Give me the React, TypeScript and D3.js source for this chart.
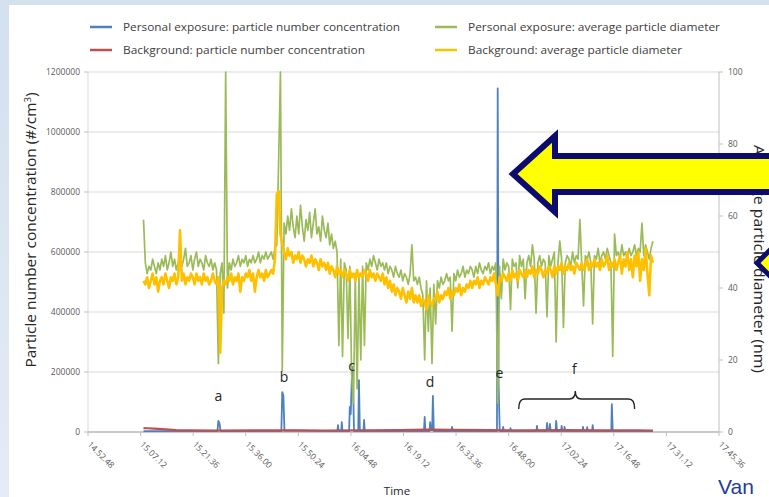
import React from 'react';
import * as d3 from 'd3';

const W = 769;
const H = 497;

// time helpers, "hh:mm:ss" -> seconds of day
const toSec = (s: string) => {
  const [h, m, sec] = s.split(':').map(Number);
  return h * 3600 + m * 60 + sec;
};
const fmtTime = (v: number) => {
  const h = Math.floor(v / 3600);
  const m = Math.floor((v % 3600) / 60);
  const s = v % 60;
  const p = (n: number) => String(n).padStart(2, '0');
  return `${p(h)}.${p(m)}.${p(s)}`;
};

const axisStart = '14:52:48';
const axisEnd = '17:45:36';
const tickStep = 864; // 14 min 24 s between time ticks
const seriesStart = '15:08:00';
const STEP = 30; // seconds between samples

const leftTicks = [0, 200000, 400000, 600000, 800000, 1000000, 1200000];
const rightTicks = [0, 20, 40, 60, 80, 100];

// average particle diameter (nm), every 30 s from 15:08:00
const personalDiameter = [
  59, 47, 44, 46, 45, 48, 46, 44, 47, 45,
  48, 46, 49, 45, 47, 50, 46, 48, 45, 47,
  49, 46, 48, 51, 46, 47, 49, 45, 48, 50,
  46, 48, 47, 45, 49, 47, 46, 48, 45, 47,
  45, 19, 44, 47, 33, 100, 40, 47, 45, 48,
  46, 47, 49, 46, 48, 47, 49, 46, 48, 47,
  49, 47, 48, 50, 47, 49, 48, 50, 48, 49,
  50, 48, 51, 52, 75, 100, 17, 58, 55, 60,
  56, 62, 57, 54, 60, 55, 63, 57, 53, 59,
  56, 61, 54, 58, 62, 55, 57, 53, 60, 56,
  54, 58, 52, 55, 51, 53, 50, 24, 48, 21,
  47, 45, 26, 46, 16, 8, 44, 12, 43, 20,
  46, 24, 47, 45, 48, 46, 49, 47, 45, 48,
  46, 47, 45, 47, 44, 46, 45, 43, 46, 44,
  43, 45, 42, 44, 43, 41, 44, 52, 42, 43,
  41, 43, 40, 38, 20, 42, 28, 40, 19, 41,
  30, 42, 40, 43, 41, 42, 44, 42, 43, 28,
  44, 42, 45, 43, 44, 46, 43, 45, 44, 46,
  45, 43, 46, 44, 47, 45, 44, 46, 45, 47,
  44, 46, 45, 47, 8, 46, 37, 48, 45, 47,
  46, 34, 48, 46, 47, 40, 49, 46, 48, 37,
  47, 49, 46, 52, 48, 33, 47, 49, 46, 48,
  47, 32, 49, 46, 48, 50, 25, 47, 53, 48,
  29, 47, 49, 48, 46, 50, 47, 49, 48, 59,
  47, 35, 49, 48, 50, 47, 30, 49, 48, 51,
  47, 49, 50, 48, 51, 49, 47, 21, 55, 49,
  50, 48, 52, 49, 50, 48, 51, 49, 50, 52,
  49, 51, 50, 58, 49, 52, 50, 48, 51, 53,
];

const backgroundDiameter = [
  42, 41, 43, 40, 42, 44, 41, 43, 39, 42,
  43, 41, 44, 42, 40, 43, 42, 44, 41, 43,
  56, 42, 44, 41, 43, 42, 44, 43, 41, 44,
  42, 43, 41, 44, 42, 43, 41, 42, 44, 42,
  41, 43, 22, 40, 42, 41, 43, 42, 44, 41,
  43, 42, 44, 39, 43, 42, 44, 43, 45, 42,
  44, 39, 43, 45, 43, 44, 42, 45, 43, 44,
  45, 44, 48, 66, 67, 55, 52, 50, 48, 51,
  49, 50, 47, 49, 48, 50, 47, 49, 48, 46,
  48, 47, 49, 46, 48, 47, 45, 48, 46, 47,
  45, 47, 44, 46, 45, 43, 46, 44, 45, 43,
  45, 44, 42, 45, 43, 44, 42, 45, 43, 44,
  43, 45, 44, 42, 45, 43, 44, 42, 44, 43,
  42, 44, 41, 43, 40, 42, 39, 41, 38, 40,
  39, 37, 40, 38, 36, 39, 37, 40, 36, 38,
  36, 38, 35, 37, 36, 34, 38, 36, 35, 37,
  37, 39, 36, 38, 37, 39, 38, 40, 37, 39,
  38, 40, 39, 41, 38, 40, 39, 41, 40, 42,
  40, 42, 41, 43, 40, 42, 41, 43, 42, 41,
  43, 42, 44, 41, 38, 43, 42, 44, 43, 42,
  44, 42, 45, 43, 44, 42, 45, 44, 43, 45,
  43, 45, 44, 46, 43, 45, 44, 46, 45, 43,
  45, 44, 46, 45, 43, 46, 44, 46, 45, 47,
  44, 46, 45, 47, 45, 46, 44, 47, 46, 45,
  47, 45, 46, 48, 45, 47, 46, 48, 46, 47,
  45, 48, 46, 47, 49, 45, 47, 46, 48, 45,
  47, 49, 44, 48, 46, 50, 45, 48, 43, 49,
  46, 50, 42, 48, 45, 51, 44, 38, 49, 47,
];

// particle number concentration (#/cm3): [sample index, value]
const personalPNC: [number, number][] = [
  [0, 3000], [40.5, 3000], [41, 37000], [41.6, 30000], [42.2, 3000],
  [75.5, 3000], [76, 133000], [76.6, 122000], [77.2, 5000], [104, 3000],
  [106.2, 3000], [106.5, 23000], [106.9, 3000], [108.3, 3000], [108.6, 33000], [109, 3000],
  [112.6, 3000], [113, 84000], [113.5, 60000], [114.3, 217000], [114.8, 150000], [115.3, 3000],
  [117.6, 3000], [118, 173000], [118.5, 3000], [120.5, 3000], [120.8, 40000], [121.2, 3000],
  [153.6, 3000], [154, 50000], [154.4, 3000], [156.6, 3000], [157, 33000], [157.4, 6000],
  [158.1, 8000], [158.5, 120000], [159, 3000], [168.7, 3000], [169, 17000], [169.4, 3000],
  [193.6, 3000], [194, 1145000], [194.5, 157000], [195.1, 3000],
  [196.7, 3000], [197, 17000], [197.4, 3000], [200.7, 3000], [201, 13000], [201.4, 3000],
  [215.2, 3000], [215.5, 20000], [215.9, 3000], [220.7, 3000], [221, 30000], [221.5, 4000],
  [222.3, 4000], [222.6, 27000], [223, 3000], [225.7, 3000], [226, 37000], [226.5, 3000],
  [228.7, 3000], [229, 20000], [229.4, 3000], [230.3, 3000], [230.6, 17000], [231, 3000],
  [240.4, 3000], [240.7, 17000], [241.1, 3000], [242.7, 3000], [243, 16000], [243.4, 3000],
  [245.7, 3000], [246, 23000], [246.4, 3000], [256.2, 3000], [256.5, 93000], [257, 3000],
  [279, 3000],
];

const backgroundPNC: [number, number][] = [
  [0, 13000], [2, 12500], [6, 11000], [10, 9500], [14, 8000], [18, 6500], [25, 5500],
  [40, 5000], [60, 5200], [80, 5500], [100, 5000], [120, 5800], [140, 6500], [155, 8000],
  [170, 7000], [190, 6000], [210, 5500], [230, 6000], [250, 5500], [270, 5800], [279, 5000],
];

const COLORS = {
  personalPNC: '#4f81bd',
  backgroundPNC: '#c0504d',
  personalDiameter: '#9bbb59',
  backgroundDiameter: '#ffc000',
};

const peakLabels = [
  { text: 'a', t: 41 },
  { text: 'b', t: 77 },
  { text: 'c', t: 114 },
  { text: 'd', t: 157 },
  { text: 'e', t: 195 },
  { text: 'f', t: 236 },
];
const peakLabelY = [401, 382, 371, 387, 378, 374];

const FONT = '"Open Sans", "DejaVu Sans", sans-serif';

export default function App() {
  const t0 = toSec(seriesStart);
  const x = d3.scaleLinear().domain([toSec(axisStart), toSec(axisEnd)]).range([88, 719]);
  const yL = d3.scaleLinear().domain([0, 1200000]).range([432, 72]);
  const yR = d3.scaleLinear().domain([0, 100]).range([432, 72]);
  const xi = (i: number) => x(t0 + i * STEP);

  const xTicks = d3.range(toSec(axisStart), toSec(axisEnd) + 1, tickStep);

  const lineDense = d3.line<number>().x((_, i) => xi(i)).y((d) => yR(d));
  const lineSparse = d3.line<[number, number]>().x((d) => xi(d[0])).y((d) => yL(d[1]));

  const left = x.range()[0];
  const right = x.range()[1];
  const bottom = yL(0);

  // bracket over f
  const bx0 = xi(205.5), bx1 = xi(269), bxm = xi(236.5);
  const bracket = `M${bx0},409 Q${bx0},399 ${bx0 + 6},399 L${bxm - 6},399 Q${bxm},399 ${bxm},391 Q${bxm},399 ${bxm + 6},399 L${bx1 - 6},399 Q${bx1},399 ${bx1},409`;

  const legend = [
    { label: 'Personal exposure: particle number concentration', color: COLORS.personalPNC, x: 90, y: 27, len: 277 },
    { label: 'Background: particle number concentration', color: COLORS.backgroundPNC, x: 90, y: 50, len: 242 },
    { label: 'Personal exposure: average particle diameter', color: COLORS.personalDiameter, x: 435, y: 27, len: 252 },
    { label: 'Background: average particle diameter', color: '#f5c500', x: 435, y: 50, len: 214 },
  ];

  return (
    <svg width={W} height={H} style={{ position: 'absolute', left: 0, top: 0 }} fontFamily={FONT}>
      <defs>
        <linearGradient id="slide" x1="0" y1="0" x2="0" y2="1">
          <stop offset="0" stopColor="#d3e0ee" />
          <stop offset="1" stopColor="#e4ecf5" />
        </linearGradient>
      </defs>
      <rect width={W} height={H} fill="url(#slide)" />
      <rect x={9} y={5} width={W - 9} height={H - 5} fill="#ffffff" />

      {/* gridlines */}
      {leftTicks.map((v) => (
        <line key={v} x1={left} x2={right} y1={yL(v)} y2={yL(v)} stroke="#d9d9d9" strokeWidth={1} />
      ))}
      <line x1={left} x2={left} y1={72} y2={bottom} stroke="#d9d9d9" />
      <line x1={right} x2={right} y1={72} y2={bottom} stroke="#bfbfbf" />
      <line x1={left} x2={right} y1={bottom} y2={bottom} stroke="#a6a6a6" />
      {leftTicks.map((v) => (
        <line key={'lt' + v} x1={left - 4} x2={left} y1={yL(v)} y2={yL(v)} stroke="#bfbfbf" />
      ))}
      {rightTicks.map((v) => (
        <line key={'rt' + v} x1={right} x2={right + 4} y1={yR(v)} y2={yR(v)} stroke="#bfbfbf" />
      ))}
      {xTicks.map((v) => (
        <line key={'xt' + v} x1={x(v)} x2={x(v)} y1={bottom} y2={bottom + 4} stroke="#bfbfbf" />
      ))}

      {/* series */}
      <path d={lineSparse(personalPNC) || ''} fill="none" stroke={COLORS.personalPNC} strokeWidth={1.8} strokeLinejoin="round" />
      <path d={lineSparse(backgroundPNC) || ''} fill="none" stroke={COLORS.backgroundPNC} strokeWidth={2.2} strokeLinejoin="round" />
      <path d={lineDense(personalDiameter) || ''} fill="none" stroke={COLORS.personalDiameter} strokeWidth={1.7} strokeLinejoin="round" />
      <path d={lineDense(backgroundDiameter) || ''} fill="none" stroke={COLORS.backgroundDiameter} strokeWidth={2.6} strokeLinejoin="round" />

      {/* tick labels */}
      {leftTicks.map((v) => (
        <text key={'ll' + v} x={80} y={yL(v) + 3} textAnchor="end" fontSize={8.5} fill="#595959">{v}</text>
      ))}
      {rightTicks.map((v) => (
        <text key={'rl' + v} x={728} y={yR(v) + 3} fontSize={8.5} fill="#595959">{v}</text>
      ))}
      {xTicks.map((v) => (
        <text key={'xl' + v} transform={`translate(${x(v) - 1},${bottom + 13}) rotate(45)`} fontSize={8.5} fill="#595959">
          {fmtTime(v)}
        </text>
      ))}

      {/* peak labels */}
      {peakLabels.map((p, i) => (
        <text key={p.text} x={xi(p.t)} y={peakLabelY[i]} textAnchor="middle" fontSize={14} fill="#262626">{p.text}</text>
      ))}
      <path d={bracket} fill="none" stroke="#262626" strokeWidth={1.4} />

      {/* legend */}
      {legend.map((l) => (
        <g key={l.label}>
          <line x1={l.x} x2={l.x + 22} y1={l.y} y2={l.y} stroke={l.color} strokeWidth={2.5} />
          <text x={l.x + 33} y={l.y + 4} fontSize={11.5} fill="#404040" textLength={l.len} lengthAdjust="spacingAndGlyphs">
            {l.label}
          </text>
        </g>
      ))}

      {/* axis titles */}
      <text transform="translate(36,230) rotate(-90)" textAnchor="middle" fontSize={14.5} fill="#262626" textLength={275} lengthAdjust="spacingAndGlyphs">
        Particle number concentration (#/cm<tspan fontSize={9} dy={-5}>3</tspan><tspan dy={5}>)</tspan>
      </text>
      <text transform="translate(754,259) rotate(90)" textAnchor="middle" fontSize={14} fill="#262626" textLength={228} lengthAdjust="spacingAndGlyphs">
        Average particle diameter (nm)
      </text>
      <text x={397} y={495} textAnchor="middle" fontSize={11.5} fill="#262626">Time</text>

      {/* slide arrows */}
      <path d="M513,174 L555,136 L555,156 L790,156 L790,192 L555,192 L555,212 Z" fill="#ffff00" stroke="#0c0c6e" strokeWidth={6} strokeLinejoin="miter" />
      <path d="M757,263 L800,220 L800,306 Z" fill="#ffff00" stroke="#0c0c6e" strokeWidth={5} />
      <text x={718} y={494} fontSize={21} fill="#1f3d96" fontFamily='"Liberation Sans", Arial, sans-serif'>Van</text>
    </svg>
  );
}
